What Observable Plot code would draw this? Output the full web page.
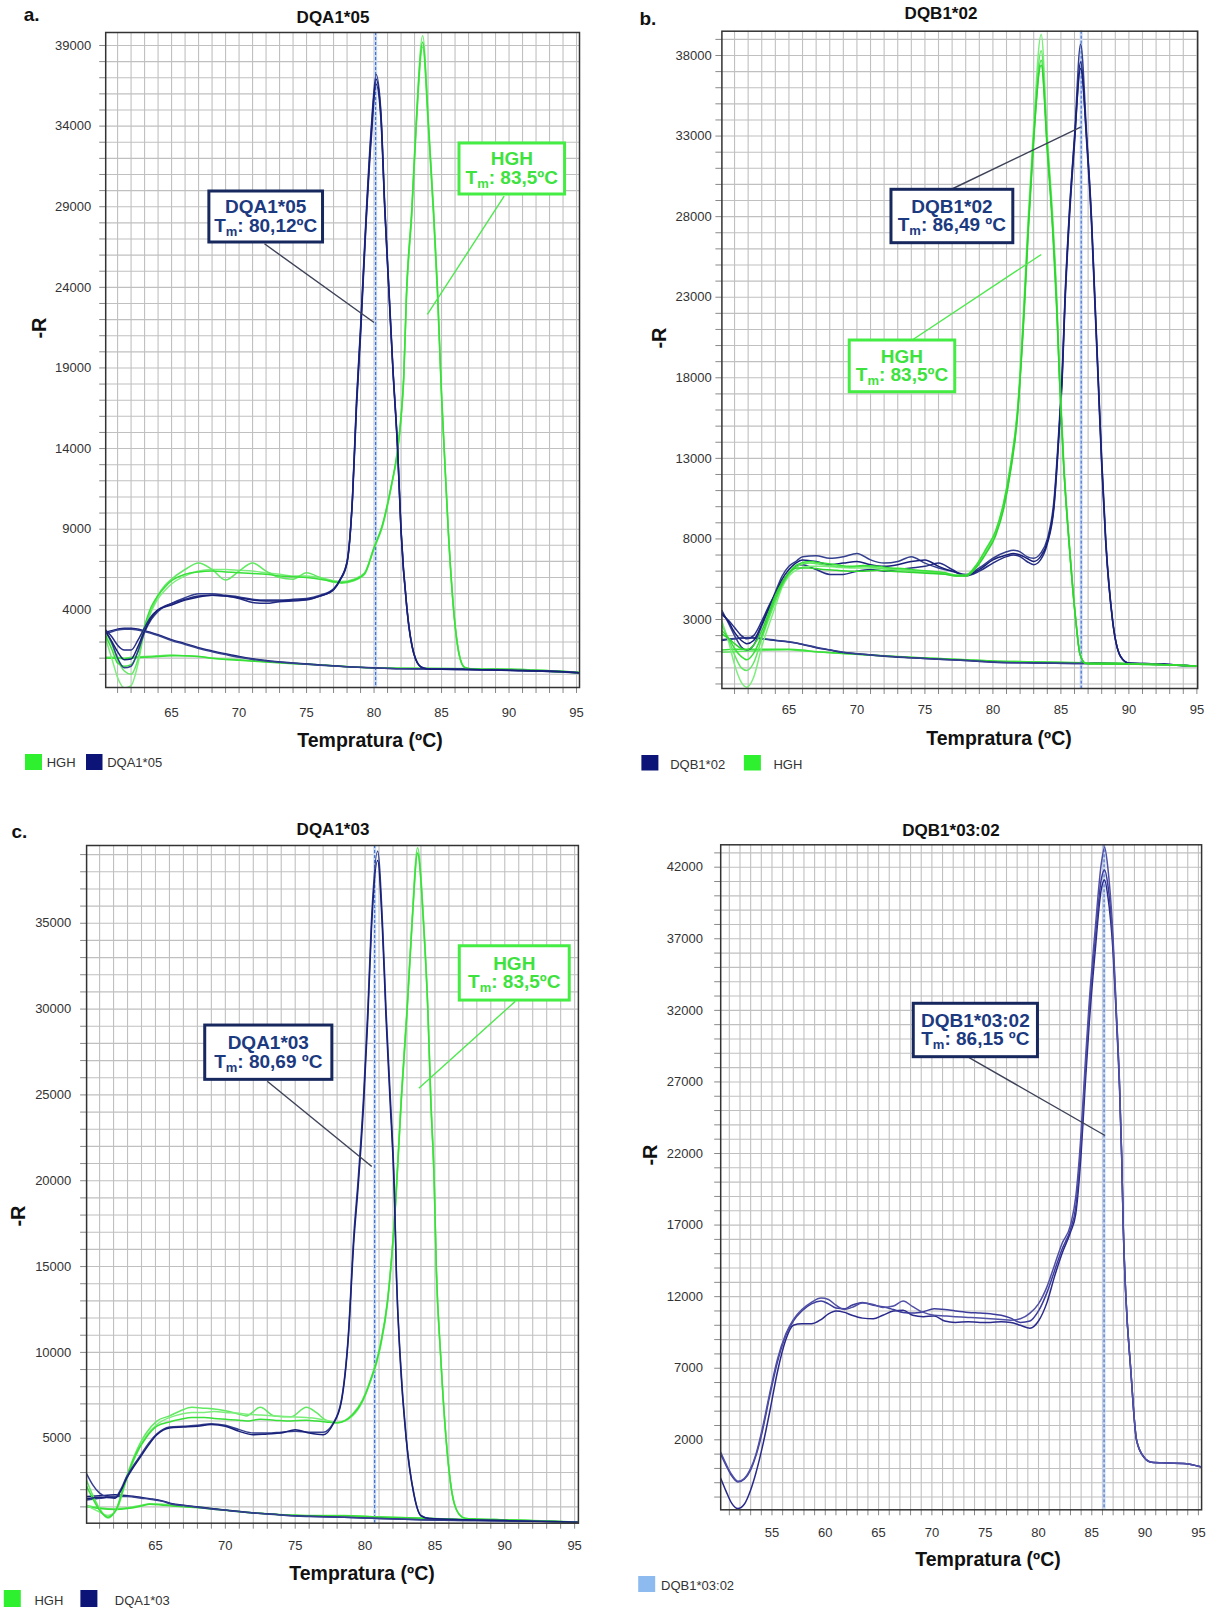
<!DOCTYPE html>
<html><head><meta charset="utf-8">
<script src="https://cdn.jsdelivr.net/npm/d3@7"></script>
<script src="https://cdn.jsdelivr.net/npm/@observablehq/plot@0.6"></script>
<style>
html,body{margin:0;padding:0;background:#fff;}
#root{position:relative;width:1218px;height:1609px;overflow:hidden;background:#fff;}
</style></head><body><div id="root"></div>
<script>
// ---------- Panel a: DQA1*05 / HGH ----------
const A_DQA_T = [60.12,60.6,61,61.5,62,62.5,63,63.5,64,65,66,67,68,69,70,71,72,73,74,75,76,77,77.5,78,78.4,78.7,79,79.4,79.8,80.15,80.5,80.8,81.1,81.4,81.75,82,82.45,82.95,83.5,84,85,87,90,93,95.22];
const A_DQA_1 = [2700,1900,1000,400,500,1400,2600,3400,3900,4400,4750,5000,5000,4900,4800,4650,4600,4600,4650,4700,4900,5300,5900,7000,11000,17000,21500,28300,34000,37200,35000,29000,24000,19000,14000,9000,4000,1300,450,340,320,300,250,200,100];
const A_DQA_2 = [2750,2300,1800,1500,1500,2100,2900,3600,4000,4400,4650,4850,4900,4850,4700,4450,4400,4500,4550,4600,4850,5250,5850,6900,10800,16500,21000,27800,33300,36600,34500,28700,23700,18800,13800,8800,3900,1250,430,330,310,290,240,190,100];
const A_DQA_3 = [2650,2000,1400,900,950,1700,2700,3500,4000,4300,4600,4800,4900,4850,4750,4600,4550,4550,4600,4650,4850,5250,5900,6950,10900,16800,21300,28000,33700,36900,34800,28800,23800,18900,13900,8900,3950,1280,440,335,315,295,245,195,100];
const A_HGH_T = [60.12,60.6,61,61.5,62,62.5,63,63.5,64,64.5,65,66,67,68,69,70,71,72,73,74,75,76,77,77.6,78.5,79.3,80,80.6,81.3,81.7,82,82.2,82.4,82.8,83.1,83.6,84.05,84.4,84.7,85,85.2,85.5,85.9,86.3,86.7,87.1,88,90,93,95.22];
const A_HGH_1 = [2200,900,-200,-840,-700,600,2700,3900,4700,5200,5600,6100,6400,6500,6500,6450,6400,6300,6200,6100,6100,6000,5800,5750,5900,6300,7900,9200,11800,13500,16000,18500,23500,29000,34000,39600,34000,29000,24000,17500,14000,9000,4000,1300,450,350,320,280,200,100];
const A_HGH_2 = [2600,1800,900,200,0,900,2800,4000,4900,5500,5900,6500,6900,6500,5850,6400,6900,6400,6000,5900,6300,6000,5700,5650,5800,6200,7800,9100,11700,13600,15800,18300,23300,28500,33500,38900,33500,28500,23500,17200,13800,8800,3900,1200,420,340,310,270,190,100];
const A_HGH_3 = [2400,1500,700,500,600,1400,3000,4200,4900,5400,5800,6200,6350,6400,6350,6300,6250,6200,6100,6050,6000,5900,5750,5700,5850,6250,7850,9200,11800,13700,16000,18500,23600,28800,33800,39200,33800,28800,23800,17300,13900,8900,3950,1250,430,345,315,275,195,100];
const A_BASE_T = [60.12,61,61.5,62,63,64,65,66,67,68,69,70,72,74,76,78,80,82,85,88,91,95.22];
const A_DQA_B1 = [2600,2800,2850,2850,2700,2450,2150,1900,1650,1450,1270,1100,850,700,580,470,400,350,330,300,250,100];
const A_DQA_B2 = [2500,2750,2800,2800,2650,2400,2100,1850,1600,1400,1220,1050,820,680,560,460,390,340,320,290,240,90];
const A_HGH_B1 = [1050,1050,1000,1050,1100,1150,1200,1150,1100,1000,950,900,780,680,580,480,400,380,360,340,300,120];
const A_HGH_B2 = [1000,1000,950,1000,1050,1100,1150,1150,1100,1000,920,870,760,660,570,470,390,370,360,330,290,110];
const A_XTICKS = [65,70,75,80,85,90,95];
const A_YTICKS = [4000,9000,14000,19000,24000,29000,34000,39000];
const A_TM = 80.12;

// ---------- Panel b: DQB1*02 / HGH ----------
const B_DQB_T = [60.07,60.6,61,61.5,61.9,62.4,63,63.5,64,64.5,65,65.5,66,67,68,69,70,71,72,73,74,75,76,77,78,79,80,81,81.5,82,82.5,83,83.5,84,84.5,84.9,85.1,85.3,85.6,86,86.45,86.9,87.25,87.5,87.75,88,88.3,88.8,89.4,90,92,95.06];
const B_DQB_1 = [3560,2700,2000,1300,1100,1400,2600,3600,4700,5700,6300,6600,6900,6950,6800,6900,7100,6700,6500,6600,6900,6500,6200,6000,5800,6200,6800,7200,7300,7200,6900,6800,7100,8000,10500,15500,18500,23000,28000,33000,38700,33000,28000,23000,18000,13000,8000,3000,700,300,250,100];
const B_DQB_2 = [3300,2900,2500,2000,1800,2000,2900,3800,4600,5300,5900,6300,6400,6100,5800,5800,6000,6100,6000,6100,6200,6300,6500,6100,5700,6000,6500,6900,7000,6900,6600,6400,6700,7700,10000,15000,18000,22500,27500,32500,37600,32500,27500,22500,17500,12500,7700,2900,680,290,240,100];
const B_DQB_3 = [3400,2800,2200,1700,1500,1700,2700,3700,4600,5500,6100,6500,6700,6600,6400,6500,6600,6400,6300,6400,6600,6700,6300,6000,5750,6100,6700,7000,7100,7000,6800,6600,6900,7800,10200,15200,18200,22800,27800,32800,37200,32800,27800,22800,17800,12800,7800,2950,690,295,245,100];
const B_HGH_T = [60.07,60.6,61,61.5,61.9,62.4,63,63.5,64,64.5,65,65.6,66.5,67.5,68.5,69.5,70.5,71.5,72.5,73.5,74.5,75.5,76.5,77.3,78,78.7,79.5,80.2,80.8,81.3,81.8,82.3,82.6,82.95,83.55,84,84.4,84.7,84.9,85.2,85.6,86.1,86.4,86.8,87.5,90,92,95.06];
const B_HGH_1 = [2900,1500,200,-900,-1200,-600,1300,2600,3800,5000,5700,6100,6300,6300,6250,6200,6200,6200,6150,6100,6000,5950,5850,5750,5750,6250,7300,8400,10200,12500,16000,23000,28000,33000,39300,33000,28000,23000,18500,13000,8000,3000,900,300,250,230,200,100];
const B_HGH_2 = [2600,1700,800,0,-160,300,1800,3000,4100,5100,5800,6300,6500,6400,6300,6250,6300,6200,6100,6050,5950,5900,5800,5700,5700,6200,7200,8300,10000,12300,15700,22500,27500,32500,38300,32500,27500,22500,18000,12700,7800,2900,870,290,250,230,200,100];
const B_HGH_3 = [2300,1800,1200,700,500,900,2000,3200,4300,5200,5900,6400,6600,6500,6400,6300,6350,6300,6200,6150,6050,6000,5900,5750,5750,6300,7400,8500,10300,12600,15800,22000,27000,32000,37700,32000,27000,22000,17800,12600,7700,2850,850,290,250,230,200,100];
const B_HGH_4 = [2100,1800,1500,1200,1120,1400,2300,3400,4500,5300,5900,6200,6200,6100,6050,6000,6000,6050,6000,5950,5900,5850,5800,5700,5700,6150,7100,8200,9900,12200,15500,22300,27300,32300,37400,32300,27300,22300,17900,12600,7800,2900,860,290,250,230,200,100];
const B_BASE_T = [60.07,61,62,63,64,65,66,67,68,69,70,72,74,76,78,80,83,86,90,95.06];
const B_DQB_B1 = [1700,1800,1860,1800,1700,1600,1450,1250,1100,950,870,720,620,530,450,350,300,270,250,100];
const B_DQB_B2 = [1750,1820,1880,1820,1720,1620,1470,1280,1120,970,880,730,630,540,460,360,300,270,250,100];
const B_HGH_B1 = [970,1000,1050,1080,1100,1120,1050,1000,930,880,840,720,640,580,500,430,380,330,280,100];
const B_HGH_B2 = [1100,1150,1150,1150,1150,1150,1100,1000,950,900,850,750,660,580,500,430,370,320,270,100];
const B_XTICKS = [65,70,75,80,85,90,95];
const B_YTICKS = [3000,8000,13000,18000,23000,28000,33000,38000];
const B_TM = 86.49;

// ---------- Panel c: DQA1*03 / HGH ----------
const C_DQA_T = [60.07,60.5,61,61.5,62.1,62.5,62.9,63.5,64,64.5,65.1,66,67,68,69,70,71,72,73,74,75,76,77,77.7,78.3,78.8,79.2,79.5,79.9,80.2,80.45,80.9,81.25,81.5,81.8,82.1,82.25,82.5,82.95,83.5,84,84.6,87,90,95.27];
const C_DQA_1 = [2930,2300,1800,1600,1550,2000,2700,3500,4100,4700,5250,5650,5700,5750,5850,5750,5500,5300,5300,5350,5400,5350,5350,5850,7200,11000,16900,20000,25000,30000,35000,39200,35000,30000,25000,19500,14500,10000,5000,1760,500,330,250,200,100];
const C_DQA_2 = [1490,1520,1550,1550,1500,1900,2600,3400,4000,4600,5200,5600,5650,5700,5800,5700,5400,5200,5250,5300,5500,5300,5200,5800,7100,10800,16500,19600,24500,29500,34500,38650,34500,29500,24500,19200,14300,9800,4900,1700,480,320,250,200,100];
const C_HGH_T = [60.07,60.5,61,61.6,62.2,62.9,63.5,64.3,65.1,66,66.8,67.6,68.5,69.2,70,71,71.5,72.5,73.5,74.7,75.8,76.5,77.2,78,79.1,79.8,80.3,81.1,81.6,82.2,82.6,83,83.35,83.76,84.2,84.5,84.7,84.95,85.1,85.4,85.8,86.2,86.7,87.2,88,90,95.27];
const C_HGH_1 = [2540,1700,900,350,900,2700,4000,5260,6000,6300,6600,6800,6750,6700,6600,6400,6300,6800,6300,6250,6800,6500,6050,5900,6400,7200,8200,10500,13000,19000,25000,30000,35000,39400,35000,30000,25000,20000,15000,10000,5000,1950,610,330,300,250,100];
const C_HGH_2 = [1080,900,700,500,800,2500,3800,5100,5800,6200,6400,6500,6500,6550,6500,6450,6400,6350,6300,6250,6200,6150,6050,5900,6300,7100,8100,10300,12800,18800,24700,29700,34700,39000,34700,29700,24700,19800,14800,9900,4900,1900,600,330,300,250,100];
const C_HGH_3 = [2200,1500,800,400,850,2600,3900,5000,5700,5950,6100,6200,6200,6150,6100,6050,6000,6100,6050,6000,6050,6000,5950,5900,6350,7150,8150,10400,12900,18900,24800,29800,34800,39100,34800,29800,24800,19900,14900,9950,4950,1920,605,330,300,250,100];
const C_BASE_T = [60.07,61,62.1,63,64,64.6,65.5,66.2,67,68.1,69,70.3,72,73,75,76,78.5,81,84,88,92,95.27];
const C_DQA_B1 = [1600,1650,1700,1650,1550,1480,1350,1180,1100,990,900,790,650,600,480,450,400,330,250,200,180,100];
const C_DQA_B2 = [1400,1500,1600,1600,1500,1450,1320,1150,1080,970,880,780,640,590,470,440,390,320,250,200,170,90];
const C_HGH_B1 = [1080,950,880,950,1100,1180,1150,1100,1050,990,900,790,650,600,520,500,500,420,350,250,200,100];
const C_HGH_B2 = [1000,900,850,900,1050,1150,1100,1050,1000,950,870,770,640,590,510,490,480,400,340,240,190,90];
const C_XTICKS = [65,70,75,80,85,90,95];
const C_YTICKS = [5000,10000,15000,20000,25000,30000,35000];
const C_TM = 80.69;

// ---------- Panel d: DQB1*03:02 ----------
const D_T = [50.19,50.7,51.2,51.8,52.4,53,53.5,54.1,54.8,55.5,56.3,57,57.8,58.7,59.6,60.3,61,61.8,62.5,63.5,64.5,65.4,66.4,67.3,68.2,69.2,70.2,71.2,72.2,73.4,74.5,75.5,76.5,77.4,78.3,79.2,80,80.8,81.5,82.2,83,83.5,84,84.4,84.75,85.3,85.9,86.2,86.5,87,87.3,87.6,87.8,87.95,88.2,88.65,89.2,89.9,90.6,92,93.6,95.3];
const D_1 = [1130,300,-400,-900,-700,0,1000,2800,5300,7600,9400,10400,11100,11600,11900,11800,11400,11100,11250,11550,11450,11250,11350,11700,11300,10900,10700,10650,10600,10550,10500,10450,10400,10350,10450,10850,11500,12700,14200,15700,17000,19000,23500,28500,32500,37500,42300,43400,42000,37000,32000,27000,22000,17000,12000,7000,2000,780,430,380,350,100];
const D_2 = [-680,-1600,-2400,-2800,-2500,-1500,-300,1500,4000,6700,9000,10000,10100,10100,10400,10800,11000,10900,10700,10500,10450,10700,11000,11050,10700,10600,10650,10300,10200,10250,10200,10200,10250,10200,10000,9800,10300,11600,13400,15000,16500,17800,22000,27000,31000,36000,40500,41100,40000,36000,31500,26500,21800,16800,11900,6900,1950,780,430,380,350,100];
const D_3 = [1000,200,-500,-950,-750,-100,900,2600,5100,7400,9300,10300,11000,11500,11700,11500,11200,11150,11400,11600,11400,11300,11100,10900,10850,10950,11150,11100,11000,10900,10850,10800,10700,10500,10200,10300,11000,12300,13800,15300,16700,18300,22800,27800,31800,36800,41200,41800,40800,36500,31800,26800,21900,16900,11950,6950,1980,780,430,380,350,100];
const D_XTICKS = [55,60,65,70,75,80,85,90,95];
const D_YTICKS = [2000,7000,12000,17000,22000,27000,32000,37000,42000];
const D_TM = 86.15;

// ---------- styles ----------
const FONT = "'Liberation Sans', Arial, Helvetica, sans-serif";
const NARROW = "'Liberation Sans Narrow', 'Liberation Sans', Arial, sans-serif";
const GRID = "#c0c0c0";
const NAVY = "#18207a", NAVY2 = "#34408e", NAVY3 = "#252d84";
const GREEN = "#38e038", GREEN2 = "#62e862", GREEN3 = "#7cee7c", GREEN4 = "#2fd42f";
const LEG_GREEN = "#2ef02e", LEG_NAVY = "#0c1577", LEG_LIGHT = "#8dbbf0";
const NOTE_NAVY = "#17285e", NOTE_NAVY_TXT = "#1c3a80", NOTE_GREEN = "#44ec44", NOTE_GREEN_TXT = "#3ee23e";

function rows(T, V, id, color) { return T.map((t, i) => ({t, v: V[i], id, color})); }

const PANELS = [
  {key: "a", left: 0, top: 0, width: 600, height: 800, m: [32, 21, 113, 105.2],
   xDomain: [60.12, 95.22], yDomain: [-820, 39806], gridX: d3.range(61, 96), gridY: d3.range(0, 39001, 1000),
   xTicks: A_XTICKS, yTicks: A_YTICKS, padX: 20, padY: 14.5, tm: A_TM,
   data: [
     ...rows(A_BASE_T, A_HGH_B1, "hb1", GREEN2), ...rows(A_BASE_T, A_HGH_B2, "hb2", GREEN),
     ...rows(A_BASE_T, A_DQA_B1, "db1", NAVY), ...rows(A_BASE_T, A_DQA_B2, "db2", NAVY2),
     ...rows(A_HGH_T, A_HGH_1, "h1", GREEN3), ...rows(A_HGH_T, A_HGH_2, "h2", GREEN2), ...rows(A_HGH_T, A_HGH_3, "h3", GREEN),
     ...rows(A_DQA_T, A_DQA_1, "d1", NAVY2), ...rows(A_DQA_T, A_DQA_2, "d2", NAVY3), ...rows(A_DQA_T, A_DQA_3, "d3", NAVY)],
   notes: [
     {name: "DQA1*05", tm: ": 80,12ºC", border: NOTE_NAVY, fill: NOTE_NAVY_TXT, line: "#3d4257", box: [67.8, 76.22, 26781, 29944], from: [71.88, 26700], to: [80.0, 21819]},
     {name: "HGH", tm: ": 83,5ºC", border: NOTE_GREEN, fill: NOTE_GREEN_TXT, line: "#4de84d", box: [86.33, 94.15, 29758, 32922], from: [89.64, 29650], to: [83.95, 22316]}]},
  {key: "b", left: 600, top: 0, width: 618, height: 800, m: [30.7, 20.8, 112, 121.4],
   xDomain: [60.07, 95.06], yDomain: [-1282, 39508], gridX: d3.range(61, 96), gridY: d3.range(-1000, 39001, 1000),
   xTicks: B_XTICKS, yTicks: B_YTICKS, padX: 16, padY: 10.2, tm: B_TM,
   data: [
     ...rows(B_BASE_T, B_HGH_B1, "hb1", GREEN2), ...rows(B_BASE_T, B_HGH_B2, "hb2", GREEN),
     ...rows(B_BASE_T, B_DQB_B1, "db1", NAVY), ...rows(B_BASE_T, B_DQB_B2, "db2", NAVY2),
     ...rows(B_DQB_T, B_DQB_1, "d1", NAVY2), ...rows(B_DQB_T, B_DQB_2, "d2", NAVY3), ...rows(B_DQB_T, B_DQB_3, "d3", NAVY),
     ...rows(B_HGH_T, B_HGH_1, "h1", GREEN3), ...rows(B_HGH_T, B_HGH_2, "h2", GREEN2), ...rows(B_HGH_T, B_HGH_3, "h3", GREEN), ...rows(B_HGH_T, B_HGH_4, "h4", GREEN4)],
   notes: [
     {name: "DQB1*02", tm: ": 86,49 ºC", border: NOTE_NAVY, fill: NOTE_NAVY_TXT, line: "#3d4257", box: [72.54, 81.5, 26352, 29666], from: [76.95, 29700], to: [86.45, 33550]},
     {name: "HGH", tm: ": 83,5ºC", border: NOTE_GREEN, fill: NOTE_GREEN_TXT, line: "#4de84d", box: [69.47, 77.23, 17105, 20313], from: [74.04, 20330], to: [83.56, 25650]}]},
  {key: "c", left: 0, top: 800, width: 600, height: 809, m: [45, 22.1, 86.3, 86.1],
   xDomain: [60.07, 95.27], yDomain: [49, 39530], gridX: d3.range(61, 96), gridY: d3.range(1000, 39001, 1000),
   xTicks: C_XTICKS, yTicks: C_YTICKS, padX: 17.6, padY: 15.3, tm: C_TM,
   data: [
     ...rows(C_BASE_T, C_HGH_B1, "hb1", GREEN2), ...rows(C_BASE_T, C_HGH_B2, "hb2", GREEN),
     ...rows(C_BASE_T, C_DQA_B1, "db1", NAVY), ...rows(C_BASE_T, C_DQA_B2, "db2", NAVY2),
     ...rows(C_HGH_T, C_HGH_1, "h1", GREEN2), ...rows(C_HGH_T, C_HGH_2, "h2", GREEN3), ...rows(C_HGH_T, C_HGH_3, "h3", GREEN),
     ...rows(C_DQA_T, C_DQA_1, "d1", NAVY2), ...rows(C_DQA_T, C_DQA_2, "d2", NAVY)],
   notes: [
     {name: "DQA1*03", tm: ": 80,69 ºC", border: NOTE_NAVY, fill: NOTE_NAVY_TXT, line: "#3d4257", box: [68.56, 77.66, 25878, 29041], from: [73.0, 25800], to: [80.48, 20828]},
     {name: "HGH", tm: ": 83,5ºC", border: NOTE_GREEN, fill: NOTE_GREEN_TXT, line: "#4de84d", box: [86.78, 94.65, 30497, 33660], from: [90.75, 30450], to: [83.85, 25389]}]},
  {key: "d", left: 600, top: 800, width: 618, height: 809, m: [44.3, 16.9, 99.7, 120.2],
   xDomain: [50.19, 95.3], yDomain: [-2890, 43565], gridX: d3.range(51, 96), gridY: d3.range(-2000, 43001, 1000),
   xTicks: D_XTICKS, yTicks: D_YTICKS, padX: 17.7, padY: 17.7, tm: D_TM,
   data: [...rows(D_T, D_2, "p2", "#2a2a8c"), ...rows(D_T, D_3, "p3", "#3c3c9c"), ...rows(D_T, D_1, "p1", "#5050a6")],
   notes: [
     {name: "DQB1*03:02", tm: ": 86,15 ºC", border: NOTE_NAVY, fill: NOTE_NAVY_TXT, line: "#3d4257", box: [68.3, 79.95, 28728, 32459], from: [73.49, 28700], to: [86.24, 23258]}]}
];

const root = document.getElementById("root");
const figs = {};
for (const P of PANELS) {
  const fig = Plot.plot({
    width: P.width, height: P.height,
    marginTop: P.m[0], marginRight: P.m[1], marginBottom: P.m[2], marginLeft: P.m[3],
    x: {domain: P.xDomain}, y: {domain: P.yDomain},
    style: {fontFamily: FONT, fontSize: "13px", color: "#333", background: "transparent", overflow: "visible"},
    marks: [
      Plot.gridX(P.gridX, {stroke: GRID, strokeOpacity: 1, strokeWidth: 1.1}),
      Plot.gridY(P.gridY, {stroke: GRID, strokeOpacity: 1, strokeWidth: 1.1}),
      Plot.axisX(P.gridX, {tickSize: 6, tickFormat: () => "", label: null, stroke: "#888"}),
      Plot.axisY(P.gridY, {tickSize: 6, tickFormat: () => "", label: null, stroke: "#888"}),
      Plot.axisX(P.xTicks, {tickSize: 0, tickPadding: P.padX, label: null, fontSize: 13, fill: "#333", tickFormat: d3.format("d")}),
      Plot.axisY(P.yTicks, {tickSize: 0, tickPadding: P.padY, label: null, fontSize: 13, fill: "#333", tickFormat: d3.format("d")}),
      Plot.ruleX([P.tm], {stroke: "#cbdaf3", strokeWidth: 3}),
      Plot.ruleX([P.tm], {stroke: "#2d5fc6", strokeWidth: 1, strokeDasharray: "3,2"}),
      Plot.line(P.data, {x: "t", y: "v", z: "id", stroke: "color", strokeWidth: 1.5, curve: "monotone-x", clip: true}),
      Plot.link(P.notes, {x1: d => d.from[0], y1: d => d.from[1], x2: d => d.to[0], y2: d => d.to[1], stroke: "line", strokeWidth: 1.4}),
      Plot.frame({stroke: "#333", strokeWidth: 1.5})
    ]
  });
  fig.style.position = "absolute";
  fig.style.left = P.left + "px";
  fig.style.top = P.top + "px";
  root.appendChild(fig);
  figs[P.key] = fig;
}

// ---------- overlay: titles, labels, legends, annotation boxes ----------
const ov = d3.select(root).append("svg")
  .attr("width", 1218).attr("height", 1609)
  .style("position", "absolute").style("left", "0px").style("top", "0px")
  .style("pointer-events", "none").style("overflow", "visible");

function txt(x, y, s, o = {}) {
  const t = ov.append("text").attr("x", x).attr("y", y).text(s)
    .attr("font-family", o.family || FONT).attr("font-size", o.size || 13)
    .attr("font-weight", o.weight || "normal").attr("text-anchor", o.anchor || "start")
    .attr("fill", o.fill || "#222");
  if (o.rotate) t.attr("x", 0).attr("y", 0).attr("transform", `translate(${x},${y}) rotate(${o.rotate})`);
  return t;
}
function sq(x, y, w, h, c) { ov.append("rect").attr("x", x).attr("y", y).attr("width", w).attr("height", h).attr("fill", c); }

// panel letters and titles
txt(23.7, 21, "a.", {size: 19, weight: "bold", fill: "#111"});
txt(333, 23, "DQA1*05", {size: 17, weight: "bold", anchor: "middle", fill: "#111"});
txt(639.4, 25, "b.", {size: 19, weight: "bold", fill: "#111"});
txt(941, 19, "DQB1*02", {size: 17, weight: "bold", anchor: "middle", fill: "#111"});
txt(11.5, 838, "c.", {size: 19, weight: "bold", fill: "#111"});
txt(333, 835, "DQA1*03", {size: 17, weight: "bold", anchor: "middle", fill: "#111"});
txt(951, 836, "DQB1*03:02", {size: 17, weight: "bold", anchor: "middle", fill: "#111"});

// y labels
for (const [x, y] of [[46, 328], [666, 338], [25, 1216], [657, 1155]])
  txt(x, y, "-R", {size: 20, weight: "bold", anchor: "middle", rotate: -90, fill: "#111"});
// x labels
for (const [x, y] of [[370, 746.7], [999, 745], [362, 1580], [988, 1566]])
  txt(x, y, "Tempratura (ºC)", {size: 19.5, weight: "bold", anchor: "middle", fill: "#111"});

// legends
sq(25, 754, 17, 16, LEG_GREEN); txt(46.7, 767, "HGH", {fill: "#333"});
sq(86, 754, 16.5, 16, LEG_NAVY); txt(107.2, 767, "DQA1*05", {fill: "#333"});
sq(641.4, 755, 17, 15.5, LEG_NAVY); txt(670.2, 769, "DQB1*02", {fill: "#333"});
sq(743.9, 755, 17, 15.5, LEG_GREEN); txt(773.4, 769, "HGH", {fill: "#333"});
sq(3.8, 1590, 17, 17, LEG_GREEN); txt(34.4, 1605, "HGH", {fill: "#333"});
sq(80.4, 1590, 17, 17, LEG_NAVY); txt(114.8, 1605, "DQA1*03", {fill: "#333"});
sq(638.2, 1576, 17, 16, LEG_LIGHT); txt(661.1, 1590, "DQB1*03:02", {fill: "#333"});

// annotation boxes, placed through each plot's scales
for (const P of PANELS) {
  const fig = figs[P.key];
  const sx = fig.scale("x"), sy = fig.scale("y");
  const X = v => P.left + sx.apply(v), Y = v => P.top + sy.apply(v);
  for (const n of P.notes) {
    const x1 = X(n.box[0]), x2 = X(n.box[1]), yTop = Y(n.box[3]), yBot = Y(n.box[2]);
    ov.append("rect").attr("x", x1).attr("y", yTop).attr("width", x2 - x1).attr("height", yBot - yTop)
      .attr("fill", "#fff").attr("stroke", n.border).attr("stroke-width", 3);
    const cx = (x1 + x2) / 2, cy = (yTop + yBot) / 2;
    txt(cx, cy - 3, n.name, {size: 19, weight: "bold", anchor: "middle", family: NARROW, fill: n.fill});
    const t = ov.append("text").attr("x", cx).attr("y", cy + 15.5).attr("text-anchor", "middle")
      .attr("font-family", NARROW).attr("font-weight", "bold").attr("font-size", 19).attr("fill", n.fill);
    t.append("tspan").text("T");
    t.append("tspan").attr("font-size", 13).attr("dy", 4).text("m");
    t.append("tspan").attr("dy", -4).text(n.tm);
  }
}
</script></body></html>
